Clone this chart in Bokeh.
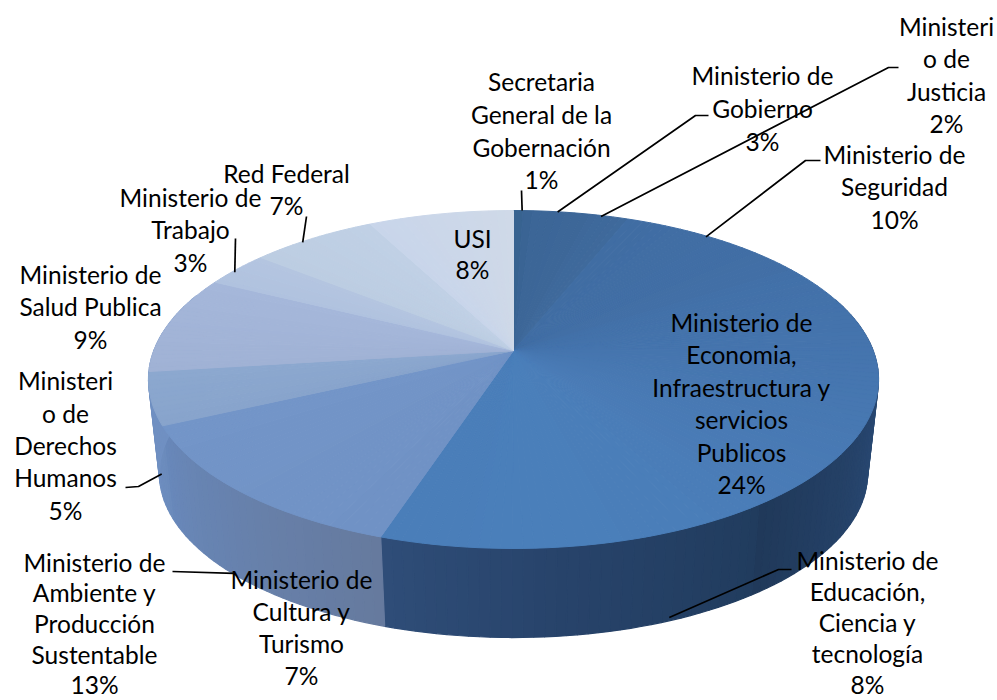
import math
from bokeh.plotting import figure
from bokeh.models import Range1d
from bokeh.core.properties import value
from bokeh.embed import file_html
from bokeh.resources import INLINE

# ---- data ----
names = ["Secretaria General de la Gobernación", "Ministerio de Gobierno", "Ministerio de Justicia",
         "Ministerio de Seguridad", "Ministerio de Economia, Infraestructura y servicios Publicos",
         "Ministerio de Educación, Ciencia y tecnología", "Ministerio de Cultura y Turismo",
         "Ministerio de Ambiente y Producción Sustentable", "Ministerio de Derechos Humanos",
         "Ministerio de Salud Publica", "Ministerio de Trabajo", "Red Federal", "USI"]
shares = [1, 3, 2, 10, 24, 8, 7, 13, 5, 9.4, 3.4, 6.6, 7.6]

label_lines = [
    ["Secretaria", "General de la", "Gobernación", "1%"],
    ["Ministerio de", "Gobierno", "3%"],
    ["Ministeri", "o de", "Justicia", "2%"],
    ["Ministerio de", "Seguridad", "10%"],
    ["Ministerio de", "Economia,", "Infraestructura y", "servicios", "Publicos", "24%"],
    ["Ministerio de", "Educación,", "Ciencia y", "tecnología", "8%"],
    ["Ministerio de", "Cultura y", "Turismo", "7%"],
    ["Ministerio de", "Ambiente y", "Producción", "Sustentable", "13%"],
    ["Ministeri", "o de", "Derechos", "Humanos", "5%"],
    ["Ministerio de", "Salud Publica", "9%"],
    ["Ministerio de", "Trabajo", "3%"],
    ["Red Federal", "7%"],
    ["USI", "8%"],
]

# ---- layout and style (pixels of the picture) ----
W, H = 997, 700
CX, APEX_Y = 513, 350
RX, RY, PERSP = 359.6, 164.0, 0.1716
RING_SCALE, RING_DROP = 0.97, 95

label_x = [541, 762, 946, 894, 741, 867, 301, 94, 65, 90, 190, 286, 472]
label_y = [
    [81, 114, 147, 179], [75, 108, 141], [26, 58, 91, 123], [154, 186, 219],
    [322, 354, 387, 419, 452, 484], [560, 591, 622, 653, 684], [579, 611, 643, 675],
    [562, 592, 623, 654, 684], [380, 413, 445, 477, 510], [274, 306, 339],
    [197, 229, 262], [173, 205], [238, 269],
]

top_colors = [("#38628f", "#3a6595"), ("#3c6697", "#3d6798"), ("#3e689a", "#3f6a9c"),
              ("#406da3", "#426fa6"), ("#4270a8", "#4a7cb7"), ("#4a7db8", "#4a7fba"),
              ("#4a7fba", "#4a7eb9"), ("#7092c5", "#7395c8"), ("#88a4cc", "#8ca8cf"),
              ("#a0b2d5", "#a5b7da"), ("#b0c2df", "#b4c5e0"), ("#bccde2", "#c0d0e5"),
              ("#c8d5ea", "#cfd9e8")]
side_colors = [("#2f5486", "#2f5486"), ("#2f5486", "#2f5486"), ("#2f5486", "#2f5486"),
               ("#2f5486", "#2f5486"), ("#335a8f", "#20395a"), ("#213c5e", "#27436a"),
               ("#27436a", "#2f4d78"), ("#667a9e", "#6888ba"), ("#6b8bbc", "#7090c2"),
               ("#7090c2", "#7090c2"), ("#7090c2", "#7090c2"), ("#7090c2", "#7090c2"),
               ("#7090c2", "#7090c2")]

# index -> (ring, dx, dy of anchor, further points towards the label)
leaders = {
    0: ("top", -1, 0, [(521, 190)]),
    1: ("top", -4, 0, [(695, 115), (708, 115)]),
    2: ("top", -8, 0, [(888, 67), (898, 67)]),
    3: ("top", -10, -2, [(805, 160), (820, 160)]),
    5: ("bottom", 3, -4, [(778, 569), (791, 569)]),
    7: ("bottom", -15, -9, [(172, 571)]),
    8: ("bottom", 0, -18, [(138, 486), (125, 487)]),
    10: ("top", -2, 3, [(235, 238)]),
    11: ("top", -10, 4, [(306, 216)]),
}


def point(theta, ring="top"):
    t = math.radians(theta)
    d = 1 + PERSP * math.cos(t)
    x = RX * math.sin(t) / d
    y = -RY * math.cos(t) / d
    if ring == "top":
        return CX + x, APEX_Y + y
    return CX + RING_SCALE * x, APEX_Y + RING_DROP + RING_SCALE * y


def mix(a, b, f):
    ca = [int(a[i:i + 2], 16) for i in (1, 3, 5)]
    cb = [int(b[i:i + 2], 16) for i in (1, 3, 5)]
    return "#%02x%02x%02x" % tuple(round(p + (q - p) * f) for p, q in zip(ca, cb))


p = figure(width=W, height=H, output_backend="svg", toolbar_location=None,
           x_range=Range1d(0, W), y_range=Range1d(H, 0),
           x_axis_type=None, y_axis_type=None, min_border=0, outline_line_color=None)
p.grid.visible = False

bounds = []
c = 0
for s in shares:
    bounds.append((c * 3.6, (c + s) * 3.6))
    c += s

STEP = 1.5
side_x, side_y, side_c = [], [], []
top_x, top_y, top_c = [], [], []
for (a, b), tc, sc in zip(bounds, top_colors, side_colors):
    n = max(1, round((b - a) / STEP))
    for k in range(n):
        t0 = a + (b - a) * k / n
        t1 = a + (b - a) * (k + 1) / n
        f = (k + 0.5) / n
        p0, p1 = point(t0), point(t1)
        q0, q1 = point(t0, "bottom"), point(t1, "bottom")
        if 70 <= t0 <= 290:
            side_x.append([p0[0], p1[0], q1[0], q0[0]])
            side_y.append([p0[1], p1[1], q1[1], q0[1]])
            side_c.append(mix(sc[0], sc[1], f))
        top_x.append([CX, p0[0], p1[0]])
        top_y.append([APEX_Y, p0[1], p1[1]])
        top_c.append(mix(tc[0], tc[1], f))

p.patches(side_x, side_y, fill_color=side_c, line_color=side_c, line_width=1.2)
p.patches(top_x, top_y, fill_color=top_c, line_color=top_c, line_width=1.0)

for i, (ring, dx, dy, rest) in leaders.items():
    a, b = bounds[i]
    ax, ay = point((a + b) / 2, ring)
    xs = [ax + dx] + [q[0] for q in rest]
    ys = [ay + dy] + [q[1] for q in rest]
    p.line(xs, ys, line_color="black", line_width=1.7)

tx, ty, tt = [], [], []
for x, ys, lines in zip(label_x, label_y, label_lines):
    for y, s in zip(ys, lines):
        tx.append(x)
        ty.append(y)
        tt.append(s)
p.text(tx, ty, text=tt, text_font=value("Lato"), text_font_size="24.5px", text_color="#000000",
       text_align="center", text_baseline="middle")

open("out.html", "w").write(file_html(p, INLINE))
